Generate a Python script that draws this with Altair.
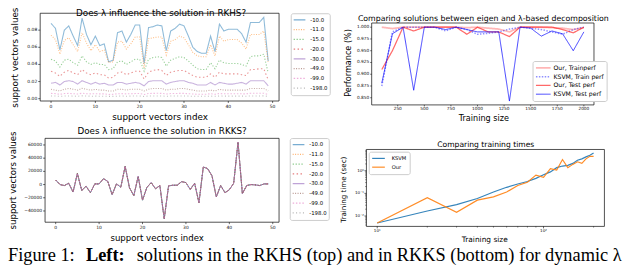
import altair as alt
import pandas as pd

# ---------------- data ----------------
idx = list(range(50))
lam_labels = ["-10.0", "-11.0", "-15.0", "-20.0", "-30.0", "-49.0", "-99.0", "-198.0"]

rkhs_m10 = [0.088, 0.082, 0.057, 0.080, 0.085, 0.073, 0.062, 0.094, 0.075, 0.063,
            0.073, 0.062, 0.064, 0.043, 0.045, 0.077, 0.079, 0.066, 0.075, 0.086,
            0.086, 0.041, 0.083, 0.084, 0.086, 0.085, 0.056, 0.079, 0.082, 0.087,
            0.085, 0.073, 0.060, 0.055, 0.053, 0.053, 0.073, 0.055, 0.087, 0.079,
            0.081, 0.081, 0.081, 0.076, 0.066, 0.089, 0.089, 0.089, 0.095, 0.044]
rkhs_m11 = [0.074, 0.069, 0.052, 0.068, 0.071, 0.063, 0.055, 0.077, 0.065, 0.056,
            0.063, 0.055, 0.057, 0.042, 0.043, 0.066, 0.067, 0.058, 0.064, 0.072,
            0.072, 0.036, 0.070, 0.071, 0.072, 0.072, 0.051, 0.067, 0.069, 0.073,
            0.071, 0.063, 0.054, 0.050, 0.049, 0.049, 0.063, 0.050, 0.073, 0.067,
            0.069, 0.069, 0.069, 0.065, 0.058, 0.075, 0.075, 0.075, 0.079, 0.042]
rkhs_m15 = [0.046, 0.044, 0.037, 0.045, 0.046, 0.042, 0.039, 0.050, 0.043, 0.040,
            0.042, 0.040, 0.040, 0.034, 0.035, 0.043, 0.044, 0.040, 0.043, 0.046,
            0.046, 0.032, 0.046, 0.048, 0.049, 0.048, 0.038, 0.045, 0.047, 0.049,
            0.048, 0.044, 0.039, 0.035, 0.034, 0.034, 0.042, 0.035, 0.045, 0.042,
            0.041, 0.041, 0.041, 0.040, 0.038, 0.049, 0.050, 0.050, 0.052, 0.030]
rkhs_m20 = [0.032, 0.030, 0.026, 0.031, 0.033, 0.030, 0.028, 0.034, 0.030, 0.028,
            0.030, 0.028, 0.028, 0.024, 0.025, 0.030, 0.031, 0.028, 0.030, 0.032,
            0.032, 0.023, 0.031, 0.033, 0.034, 0.033, 0.027, 0.031, 0.032, 0.033,
            0.033, 0.030, 0.027, 0.025, 0.025, 0.025, 0.029, 0.025, 0.031, 0.029,
            0.029, 0.029, 0.029, 0.028, 0.027, 0.034, 0.034, 0.035, 0.035, 0.022]
rkhs_m30 = [0.018, 0.019, 0.016, 0.020, 0.021, 0.020, 0.017, 0.021, 0.019, 0.017,
            0.019, 0.017, 0.018, 0.016, 0.016, 0.019, 0.019, 0.017, 0.018, 0.019,
            0.018, 0.015, 0.020, 0.021, 0.021, 0.021, 0.017, 0.019, 0.020, 0.021,
            0.021, 0.019, 0.018, 0.016, 0.016, 0.016, 0.019, 0.016, 0.019, 0.018,
            0.017, 0.017, 0.018, 0.019, 0.017, 0.021, 0.021, 0.021, 0.021, 0.015]
rkhs_m49 = [0.011, 0.010, 0.009, 0.011, 0.012, 0.011, 0.010, 0.012, 0.011, 0.010,
            0.011, 0.010, 0.010, 0.009, 0.009, 0.011, 0.011, 0.010, 0.011, 0.011,
            0.011, 0.009, 0.011, 0.012, 0.012, 0.012, 0.010, 0.011, 0.011, 0.012,
            0.012, 0.011, 0.010, 0.009, 0.009, 0.009, 0.010, 0.009, 0.011, 0.010,
            0.010, 0.010, 0.010, 0.010, 0.010, 0.012, 0.012, 0.012, 0.012, 0.009]
rkhs_m99 = [0.0062, 0.0059, 0.0052, 0.0060, 0.0062, 0.0058, 0.0055, 0.0064, 0.0059, 0.0056,
            0.0058, 0.0056, 0.0056, 0.0050, 0.0051, 0.0058, 0.0059, 0.0056, 0.0058, 0.0060,
            0.0060, 0.0049, 0.0061, 0.0062, 0.0063, 0.0062, 0.0054, 0.0060, 0.0061, 0.0062,
            0.0062, 0.0058, 0.0055, 0.0052, 0.0052, 0.0052, 0.0058, 0.0052, 0.0060, 0.0058,
            0.0058, 0.0058, 0.0058, 0.0057, 0.0056, 0.0063, 0.0063, 0.0063, 0.0064, 0.0049]
rkhs_m198 = [0.0032, 0.0031, 0.0028, 0.0031, 0.0032, 0.0030, 0.0029, 0.0033, 0.0031, 0.0029,
             0.0030, 0.0029, 0.0029, 0.0027, 0.0027, 0.0030, 0.0031, 0.0029, 0.0030, 0.0031,
             0.0031, 0.0026, 0.0031, 0.0032, 0.0032, 0.0032, 0.0028, 0.0031, 0.0031, 0.0032,
             0.0032, 0.0030, 0.0029, 0.0028, 0.0028, 0.0028, 0.0030, 0.0028, 0.0031, 0.0030,
             0.0030, 0.0030, 0.0030, 0.0030, 0.0029, 0.0032, 0.0032, 0.0032, 0.0033, 0.0026]
rkhs_all = [rkhs_m10, rkhs_m11, rkhs_m15, rkhs_m20, rkhs_m30, rkhs_m49, rkhs_m99, rkhs_m198]

rkks_vals = [6900, 0, -1500, 2000, -11300, 16700, -8900, -2500, -12300, 1000,
             1000, 8900, 4900, -15200, 1000, -3900, 27500, -4900, -16700, 12300,
             -23600, -4400, 3000, -6400, -1500, -52000, -2000, -1000, -1000, 4400,
             3000, -7400, 2000, -27500, 26600, 24100, 13300, -18700, -1500, -12300,
             -7900, 2000, 64000, -13800, -1500, 0, -500, -1500, 1000, 1000]

perf_sizes = [100, 200, 300, 400, 500, 600, 700, 800, 900, 1000,
              1100, 1200, 1300, 1400, 1500, 1600, 1700, 1800, 1900, 2000]
perf_labels = ["Our, Trainperf", "KSVM, Train perf", "Our, Test perf", "KSVM, Test perf"]
our_train = [1.000, 0.997, 1.000, 1.000, 1.000, 1.000, 1.000, 1.000, 0.999, 1.000,
             0.998, 0.996, 0.990, 1.000, 1.000, 1.000, 0.999, 0.998, 0.995, 0.999]
ksvm_train = [0.875, 0.990, 1.000, 1.000, 1.000, 1.000, 0.992, 1.000, 0.995, 0.985,
              0.987, 0.990, 0.996, 1.000, 0.998, 0.995, 0.990, 0.985, 0.995, 1.000]
our_test = [0.910, 0.950, 1.000, 0.992, 1.000, 1.000, 1.000, 1.000, 0.985, 1.000,
            0.990, 0.990, 0.980, 1.000, 1.000, 1.000, 1.000, 0.995, 0.988, 1.000]
ksvm_test = [0.881, 0.986, 1.000, 0.866, 1.000, 1.000, 0.995, 1.000, 0.995, 0.990,
             0.990, 0.990, 0.843, 1.000, 0.998, 0.981, 0.992, 0.986, 0.950, 0.990]

time_sizes = [10, 20, 30, 40, 50, 60, 70, 80, 90, 100,
              110, 120, 130, 140, 150, 160, 170, 180, 190, 200]
time_labels = ["KSVM", "Our"]
ksvm_time = [0.0049, 0.0166, 0.032, 0.059, 0.115, 0.185, 0.26, 0.335, 0.46, 0.66,
             0.89, 1.37, 1.61, 1.73, 2.11, 2.92, 3.36, 4.10, 4.80, 6.09]
our_time = [0.0049, 0.064, 0.0146, 0.050, 0.070, 0.115, 0.221, 0.310, 0.64, 0.51,
            1.24, 1.08, 3.13, 1.37, 1.91, 2.49, 2.11, 3.36, 4.35, 4.35]

# tick values and labels
idx_ticks = [0, 10, 20, 30, 40, 50]
idx_tick_labels = ["0", "10", "20", "30", "40", "50"]
rkhs_ticks = [0.0, 0.02, 0.04, 0.06, 0.08]
rkhs_tick_labels = ["0.00", "0.02", "0.04", "0.06", "0.08"]
rkks_ticks = [-40000, -20000, 0, 20000, 40000, 60000]
rkks_tick_labels = ["\u221240000", "\u221220000", "0", "20000", "40000", "60000"]
perf_x_ticks = [250, 500, 750, 1000, 1250, 1500, 1750, 2000]
perf_x_tick_labels = ["250", "500", "750", "1000", "1250", "1500", "1750", "2000"]
perf_y_ticks = [0.85, 0.875, 0.9, 0.925, 0.95, 0.975, 1.0]
perf_y_tick_labels = ["0.850", "0.875", "0.900", "0.925", "0.950", "0.975", "1.000"]
time_x_ticks = [10, 100]
time_x_tick_labels = ["10\u00b9", "10\u00b2"]
time_x_minor = [20, 30, 40, 50, 60, 70, 80, 90, 200]
time_y_ticks = [0.01, 0.1, 1]
time_y_tick_labels = ["10\u207b\u00b2", "10\u207b\u00b9", "10\u2070"]
time_y_minor = [0.004, 0.005, 0.006, 0.007, 0.008, 0.009, 0.02, 0.03, 0.04, 0.05, 0.06,
                0.07, 0.08, 0.09, 0.2, 0.3, 0.4, 0.5, 0.6, 0.7, 0.8, 0.9, 2, 3, 4, 5, 6, 7, 8]

# ---------------- styling ----------------
H = 265
FONT = "DejaVu Sans"
SERIF = "Liberation Serif"
TAB = ["#1f77b4", "#ff7f0e", "#2ca02c", "#d62728", "#9467bd", "#8c564b", "#e377c2", "#7f7f7f"]
DASH8 = [[1, 0], [1, 1.5], [1.2, 1.8], [1.5, 2.5], [1, 0], [1, 1.5], [1.5, 1.8], [1, 2.5]]


def frame(xd, yd, xs, ys):
    return alt.Chart(pd.DataFrame({"a": [0]})).mark_rect(
        filled=False, stroke="black", strokeWidth=0.7).encode(
        x=alt.XDatum(xd[0], type="quantitative", scale=xs, axis=None),
        x2=alt.X2Datum(xd[1]),
        y=alt.YDatum(yd[0], type="quantitative", scale=ys, axis=None),
        y2=alt.Y2Datum(yd[1]),
    )


def ticks(xs, ys, bottom, left, xt, xl, yt, yl, lfs, tick=2.0, xgap=3.0, ygap=3.0,
          xminor=None, yminor=None):
    out = []
    xdf = pd.DataFrame({"v": xt, "lab": xl})
    ydf = pd.DataFrame({"v": yt, "lab": yl})
    out.append(alt.Chart(xdf).mark_rule(color="black", strokeWidth=0.6).encode(
        x=alt.X("v:Q", scale=xs, axis=None), y=alt.value(bottom), y2=alt.value(bottom + tick)))
    out.append(alt.Chart(xdf).mark_text(font=FONT, fontSize=lfs, baseline="top",
                                        align="center", color="#111").encode(
        x=alt.X("v:Q", scale=xs, axis=None), y=alt.value(bottom + xgap), text="lab:N"))
    out.append(alt.Chart(ydf).mark_rule(color="black", strokeWidth=0.6).encode(
        y=alt.Y("v:Q", scale=ys, axis=None), x=alt.value(left - tick), x2=alt.value(left)))
    out.append(alt.Chart(ydf).mark_text(font=FONT, fontSize=lfs, baseline="middle",
                                        align="right", color="#111").encode(
        y=alt.Y("v:Q", scale=ys, axis=None), x=alt.value(left - ygap), text="lab:N"))
    if xminor:
        out.append(alt.Chart(pd.DataFrame({"v": xminor})).mark_rule(
            color="black", strokeWidth=0.5).encode(
            x=alt.X("v:Q", scale=xs, axis=None), y=alt.value(bottom),
            y2=alt.value(bottom + tick * 0.6)))
    if yminor:
        out.append(alt.Chart(pd.DataFrame({"v": yminor})).mark_rule(
            color="black", strokeWidth=0.5).encode(
            y=alt.Y("v:Q", scale=ys, axis=None), x=alt.value(left - tick * 0.6),
            x2=alt.value(left)))
    return out


def legend(lx, ly, fs, size, h, pad, loff, opacity=None):
    kw = dict(orient="none", legendX=lx, legendY=ly, title=None, labelFont=FONT,
              labelFontSize=fs, labelColor="black", symbolType="stroke", symbolSize=size,
              symbolStrokeWidth=1.2, padding=pad, clipHeight=h, rowPadding=0,
              labelOffset=loff, strokeColor="#cccccc", fillColor="white",
              cornerRadius=2, labelLimit=200)
    if opacity is not None:
        kw["symbolOpacity"] = opacity
    return alt.Legend(**kw)


def text(t, x, y, size, font=FONT, weight="normal", align="center", angle=0,
         baseline="alphabetic"):
    return alt.Chart(pd.DataFrame({"t": [t]})).mark_text(
        font=font, fontSize=size, fontWeight=weight, align=align, angle=angle,
        baseline=baseline, color="black").encode(
        text="t:N", x=alt.value(x), y=alt.value(y))


# ---------------- top-left: RKHS ----------------
tl_df = pd.DataFrame({
    "idx": idx * len(lam_labels),
    "val": [v for s in rkhs_all for v in s],
    "lam": [l for l in lam_labels for _ in idx],
})
tl_xd, tl_yd = [-2.45, 51.45], [-0.0027, 0.0997]
tl_xs = alt.Scale(domain=tl_xd, range=[33, 278], nice=False, zero=False)
tl_ys = alt.Scale(domain=tl_yd, range=[92, 2], nice=False, zero=False)
leg_tl = legend(290, 2, 5.5, 144, 9.4, 2, 4, 0.6)
tl_lines = alt.Chart(tl_df).mark_line(strokeWidth=1.1, opacity=0.5).encode(
    x=alt.X("idx:Q", scale=tl_xs, axis=None),
    y=alt.Y("val:Q", scale=tl_ys, axis=None),
    color=alt.Color("lam:N", scale=alt.Scale(domain=lam_labels, range=TAB), legend=leg_tl),
    strokeDash=alt.StrokeDash("lam:N", scale=alt.Scale(domain=lam_labels, range=DASH8),
                              legend=leg_tl),
)
tl = alt.layer(frame(tl_xd, tl_yd, tl_xs, tl_ys),
               *ticks(tl_xs, tl_ys, 92, 33, idx_ticks, idx_tick_labels,
                      rkhs_ticks, rkhs_tick_labels, 4.6),
               tl_lines)

# ---------------- bottom-left: RKKS ----------------
bl_df = pd.DataFrame({
    "idx": idx * len(lam_labels),
    "val": rkks_vals * len(lam_labels),
    "lam": [l for l in lam_labels for _ in idx],
})
bl_xd, bl_yd = [-2.45, 51.45], [-57000, 70000]
bl_xs = alt.Scale(domain=bl_xd, range=[38, 278], nice=False, zero=False)
bl_ys = alt.Scale(domain=bl_yd, range=[216.3, 130.3], nice=False, zero=False)
leg_bl = legend(289, 130, 5.5, 144, 9.3, 2, 4, 0.6)
bl_lines = alt.Chart(bl_df).mark_line(strokeWidth=1.0, opacity=0.6).encode(
    x=alt.X("idx:Q", scale=bl_xs, axis=None),
    y=alt.Y("val:Q", scale=bl_ys, axis=None),
    color=alt.Color("lam:N", scale=alt.Scale(domain=lam_labels, range=TAB), legend=leg_bl),
    strokeDash=alt.StrokeDash("lam:N", scale=alt.Scale(domain=lam_labels, range=DASH8),
                              legend=leg_bl),
)
bl = alt.layer(frame(bl_xd, bl_yd, bl_xs, bl_ys),
               *ticks(bl_xs, bl_ys, 216.3, 38, idx_ticks, idx_tick_labels,
                      rkks_ticks, rkks_tick_labels, 4.6),
               bl_lines)

# ---------------- top-right: performance ----------------
tr_series = [our_train, ksvm_train, our_test, ksvm_test]
tr_df = pd.DataFrame({
    "size": perf_sizes * len(perf_labels),
    "perf": [v for s in tr_series for v in s],
    "s": [l for l in perf_labels for _ in perf_sizes],
})
tr_xd, tr_yd = [5, 2095], [0.8348, 1.0089]
tr_xs = alt.Scale(domain=tr_xd, range=[373, 601], nice=False, zero=False)
tr_ys = alt.Scale(domain=tr_yd, range=[96, 12], nice=False, zero=False)
leg_tr = legend(538, 51, 6.3, 225, 9, 2.5, 2)
tr_lines = alt.Chart(tr_df).mark_line().encode(
    x=alt.X("size:Q", scale=tr_xs, axis=None),
    y=alt.Y("perf:Q", scale=tr_ys, axis=None),
    color=alt.Color("s:N", scale=alt.Scale(domain=perf_labels,
                                           range=["#ff3030", "#2020ff", "#ff1a1a", "#1010ff"]),
                    legend=leg_tr),
    strokeDash=alt.StrokeDash("s:N", scale=alt.Scale(domain=perf_labels,
                                                     range=[[1, 0], [1.5, 1.5], [1, 0], [1, 0]]),
                              legend=leg_tr),
    opacity=alt.Opacity("s:N", scale=alt.Scale(domain=perf_labels, range=[0.35, 0.8, 0.85, 0.85]),
                        legend=leg_tr),
    strokeWidth=alt.StrokeWidth("s:N", scale=alt.Scale(domain=perf_labels,
                                                       range=[1.8, 1.0, 1.2, 1.3]),
                                legend=leg_tr),
)
tr = alt.layer(frame(tr_xd, tr_yd, tr_xs, tr_ys),
               *ticks(tr_xs, tr_ys, 96, 373, perf_x_ticks, perf_x_tick_labels,
                      perf_y_ticks, perf_y_tick_labels, 4.4, tick=1.5, xgap=2.5, ygap=2.5),
               tr_lines)

# ---------------- bottom-right: training times ----------------
br_df = pd.DataFrame({
    "size": time_sizes * 2,
    "t": ksvm_time + our_time,
    "s": [l for l in time_labels for _ in time_sizes],
})
br_xd, br_yd = [8.61, 232.3], [0.003467, 8.71]
br_xs = alt.Scale(type="log", domain=br_xd, range=[367.6, 611.7], nice=False)
br_ys = alt.Scale(type="log", domain=br_yd, range=[220.6, 141.7], nice=False)
leg_br = legend(370, 144, 5.3, 169, 8.7, 2.5, 6)
br_lines = alt.Chart(br_df).mark_line(strokeWidth=1.2, opacity=0.9).encode(
    x=alt.X("size:Q", scale=br_xs, axis=None),
    y=alt.Y("t:Q", scale=br_ys, axis=None),
    color=alt.Color("s:N", scale=alt.Scale(domain=time_labels, range=["#1f77b4", "#ff7f0e"]),
                    legend=leg_br),
)
br = alt.layer(frame(br_xd, br_yd, br_xs, br_ys),
               *ticks(br_xs, br_ys, 220.6, 367.6, time_x_ticks, time_x_tick_labels,
                      time_y_ticks, time_y_tick_labels, 4.2, xgap=2.5, ygap=2.5,
                      xminor=time_x_minor, yminor=time_y_minor),
               br_lines)

# ---------------- titles, axis titles and caption ----------------
texts = [
    text("Does \u03bb influence the solution in RKHS?", 157, 5, 9),
    text("Comparing solutions between eigen and \u03bb-based decomposition", 487.5, 9.5, 8),
    text("Does \u03bb influence the solution in RKKS?", 158, 126, 9),
    text("Comparing training times", 490, 139, 7.8),
    text("support vectors index", 156, 111.5, 9),
    text("support vectors values", 7, 47.5, 9, angle=270, baseline="middle"),
    text("support vectors index", 153, 235.5, 8.8),
    text("support vectors values", 5.5, 173.5, 8.8, angle=270, baseline="middle"),
    text("Training size", 488, 113, 8.3),
    text("Performance (%)", 350, 53, 8.3, angle=270, baseline="middle"),
    text("Training size", 489, 237, 7.6),
    text("Training time (sec)", 345, 183, 7.3, angle=270, baseline="middle"),
    text("Figure 1:", 0, 256, 18.8, font=SERIF, align="left"),
    text("Left:", 80, 256, 18.8, font=SERIF, weight="bold", align="left"),
    text("solutions in the RKHS (top) and in RKKS (bottom) for dynamic \u03bb", 132, 256, 18.8,
         font=SERIF, align="left"),
]

chart = alt.layer(tl, tr, bl, br, *texts).resolve_scale(
    x="independent", y="independent", color="independent",
    strokeDash="independent", opacity="independent", strokeWidth="independent",
).properties(
    width=640, height=H, autosize=alt.AutoSizeParams(type="none"), padding=0,
    background="white",
).configure_view(stroke=None)

chart.save("out.html", embed_options={"renderer": "svg", "actions": False})
